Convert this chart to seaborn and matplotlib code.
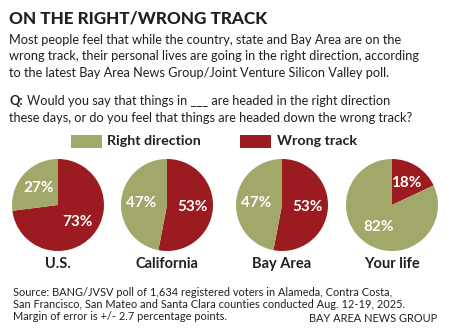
import matplotlib
matplotlib.use("Agg")
import matplotlib.pyplot as plt
import seaborn as sns

sns.set_theme(style="white")
plt.rcParams['font.family'] = ['Lato', 'DejaVu Sans']

# Data
regions = ["U.S.", "California", "Bay Area", "Your life"]
right_direction = [27, 47, 47, 82]
wrong_track = [73, 53, 53, 18]
series_names = ["Right direction", "Wrong track"]

GREEN = "#a2a86a"
RED = "#9b1b20"
TXT = "#231f20"

W, H = 462, 332
fig = plt.figure(figsize=(W / 100, H / 100), dpi=100)
fig.patch.set_facecolor("white")

def fx(x):
    return x / W

def fy(y):
    return 1 - y / H

fig.text(fx(9), fy(18.5), "ON THE RIGHT/WRONG TRACK", fontsize=12.3, fontweight="black",
         color=TXT, va="center", ha="left")
body = ["Most people feel that while the country, state and Bay Area are on the",
        "wrong track, their personal lives are going in the right direction, according",
        "to the latest Bay Area News Group/Joint Venture Silicon Valley poll."]
for i, line in enumerate(body):
    fig.text(fx(9), fy(40 + i * 16.3), line, fontsize=9.2, color=TXT, va="center", ha="left")

fig.text(fx(9), fy(101), "Q:", fontsize=9.2, fontweight="bold", color=TXT, va="center", ha="left")
fig.text(fx(27), fy(101), "Would you say that things in ___ are headed in the right direction",
         fontsize=9.2, color=TXT, va="center", ha="left")
fig.text(fx(9), fy(117.5), "these days, or do you feel that things are headed down the wrong track?",
         fontsize=9.2, color=TXT, va="center", ha="left")

# Legend
for (x0, tx), name, col in zip([(71, 107), (240, 277)], series_names, [GREEN, RED]):
    fig.patches.append(plt.Rectangle((fx(x0), fy(148)), 31 / W, 13 / H,
                                     transform=fig.transFigure, color=col, lw=0))
    fig.text(fx(tx), fy(141), name, fontsize=10.3, fontweight="bold", color=TXT,
             va="center", ha="left")

centers = [58, 167, 282, 392]
cy, r = 205, 46
for cx, name, rd, wt in zip(centers, regions, right_direction, wrong_track):
    ax = fig.add_axes([fx(cx - r), fy(cy + r), 2 * r / W, 2 * r / H])
    wedges, texts, autotexts = ax.pie(
        [wt, rd], colors=[RED, GREEN], startangle=90, counterclock=False,
        autopct=lambda p: f"{round(p)}%", pctdistance=0.56,
        textprops=dict(color="white", fontsize=11, fontweight="bold"),
        wedgeprops=dict(linewidth=0))
    ax.set_aspect("equal")
    ax.set_xlim(-1, 1)
    ax.set_ylim(-1, 1)
    ax.axis("off")
    fig.text(fx(cx), fy(264), name, fontsize=10.5, fontweight="bold", color=TXT,
             ha="center", va="center")

src = ["Source: BANG/JVSV poll of 1,634 registered voters in Alameda, Contra Costa,",
       "San Francisco, San Mateo and Santa Clara counties conducted Aug. 12-19, 2025.",
       "Margin of error is +/- 2.7 percentage points."]
for i, line in enumerate(src):
    fig.text(fx(13), fy(292 + i * 12.2), line, fontsize=7.9, color=TXT, va="center", ha="left")
fig.text(fx(437), fy(318), "BAY AREA NEWS GROUP", fontsize=7.9, color=TXT, va="center", ha="right")

fig.savefig("out.png", dpi=100)
